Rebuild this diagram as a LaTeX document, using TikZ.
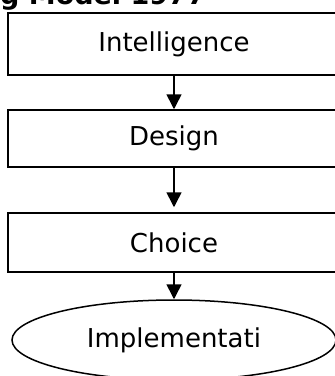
\documentclass[tikz,border=0pt]{standalone}
\usepackage{fontspec}
\setmainfont{DejaVu Sans}
\usetikzlibrary{arrows.meta, shapes.geometric}

\tikzset{
	stage/.style={shape=rectangle, draw, line width=1.5pt, minimum width=332pt, inner sep=0pt, font=\fontsize{26}{30}\selectfont},
	finalstage/.style={shape=ellipse, draw, line width=1.5pt, minimum width=324pt, minimum height=80pt, inner sep=0pt, font=\fontsize{26}{30}\selectfont},
	flow/.style={line width=1.6pt, -{Triangle[length=15pt, width=15pt]}}
}

\begin{document}
\begin{tikzpicture}[x=1pt, y=-1pt]
	\useasboundingbox (0, 0) rectangle (335, 376);
	\clip (0, 0) rectangle (335, 376);
	% Title, boxes and arrows:
	\node[anchor=base east, font=\fontsize{27}{30}\selectfont\bfseries, inner sep=0pt] (title) at (206, 4) {ng Model 1977};
	\node[stage, minimum height=62pt] (intel) at (174, 44) {Intelligence};
	\node[stage, minimum height=57pt] (design) at (174, 138.5) {Design};
	\node[stage, minimum height=59pt] (choice) at (174, 242.5) {Choice};
	\node[finalstage] (implement) at (174, 340) {Implementati};
	\draw[flow] (intel.south) -- (design.north);
	\draw[flow, shorten >=5pt] (design.south) -- (choice.north);
	\draw[flow] (choice.south) -- (implement.north);
\end{tikzpicture}
\end{document}
